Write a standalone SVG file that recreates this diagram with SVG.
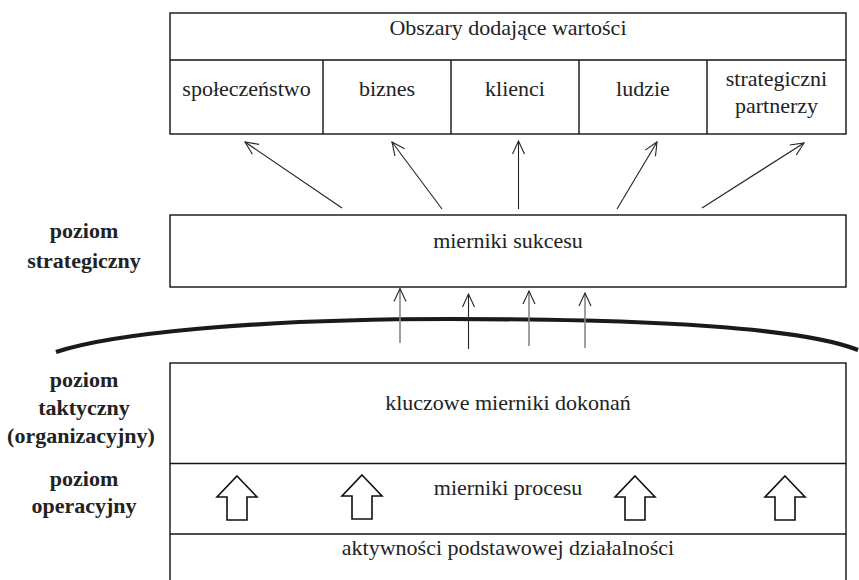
<svg xmlns="http://www.w3.org/2000/svg" width="859" height="580" viewBox="0 0 859 580">
  <defs>
    <marker id="head" markerUnits="userSpaceOnUse" markerWidth="16" markerHeight="16" viewBox="-14 -8 16 16" refX="0" refY="0" orient="auto">
      <path d="M-13,-6 L0,0 L-13,6" fill="none" stroke="#222" stroke-width="1.1"/>
    </marker>
    <path id="blockArrow" d="M0,0 L20,21 L10,21 L10,44 L-10,44 L-10,21 L-20,21 Z"/>
  </defs>

  <rect width="859" height="580" fill="#fff"/>

  <!-- value-adding areas -->
  <g id="obszary">
    <rect x="170" y="13" width="676" height="121" fill="#fff" stroke="#111" stroke-width="1.4"/>
    <line x1="170" y1="60" x2="846" y2="60" stroke="#111" stroke-width="1.4"/>
    <text x="508" y="35" font-family="Liberation Serif" font-size="22" text-anchor="middle" fill="#222">Obszary dodające wartości</text>
  </g>
  <g id="spoleczenstwo">
    <text x="246.5" y="96" font-family="Liberation Serif" font-size="22" text-anchor="middle" fill="#222">społeczeństwo</text>
  </g>
  <g id="biznes">
    <line x1="323" y1="60" x2="323" y2="134" stroke="#111" stroke-width="1.4"/>
    <text x="387" y="96" font-family="Liberation Serif" font-size="22" text-anchor="middle" fill="#222">biznes</text>
  </g>
  <g id="klienci">
    <line x1="451" y1="60" x2="451" y2="134" stroke="#111" stroke-width="1.4"/>
    <text x="515" y="96" font-family="Liberation Serif" font-size="22" text-anchor="middle" fill="#222">klienci</text>
  </g>
  <g id="ludzie">
    <line x1="579" y1="60" x2="579" y2="134" stroke="#111" stroke-width="1.4"/>
    <text x="643" y="96" font-family="Liberation Serif" font-size="22" text-anchor="middle" fill="#222">ludzie</text>
  </g>
  <g id="partnerzy">
    <line x1="707" y1="60" x2="707" y2="134" stroke="#111" stroke-width="1.4"/>
    <text x="776.5" y="86" font-family="Liberation Serif" font-size="22" text-anchor="middle" fill="#222">strategiczni</text>
    <text x="776.5" y="113" font-family="Liberation Serif" font-size="22" text-anchor="middle" fill="#222">partnerzy</text>
  </g>

  <!-- success measures -->
  <g id="mierniki-sukcesu">
    <rect x="170" y="215" width="676" height="72" fill="#fff" stroke="#111" stroke-width="1.4"/>
    <text x="508" y="248" font-family="Liberation Serif" font-size="22" text-anchor="middle" fill="#222">mierniki sukcesu</text>
  </g>

  <!-- key performance measures, process measures, core activities -->
  <g id="kluczowe-mierniki">
    <rect x="170" y="363" width="676" height="230" fill="#fff" stroke="#111" stroke-width="1.4"/>
    <text x="508" y="410" font-family="Liberation Serif" font-size="22" text-anchor="middle" fill="#222">kluczowe mierniki dokonań</text>
  </g>
  <g id="mierniki-procesu">
    <line x1="170" y1="463.5" x2="846" y2="463.5" stroke="#111" stroke-width="1.4"/>
    <text x="508" y="495" font-family="Liberation Serif" font-size="22" text-anchor="middle" fill="#222">mierniki procesu</text>
  </g>
  <g id="aktywnosci">
    <line x1="170" y1="534" x2="846" y2="534" stroke="#111" stroke-width="1.4"/>
    <text x="508" y="555" font-family="Liberation Serif" font-size="22" text-anchor="middle" fill="#222">aktywności podstawowej działalności</text>
  </g>

  <!-- level labels -->
  <g id="poziom-strategiczny">
    <text x="84" y="238" font-family="Liberation Serif" font-size="22" font-weight="bold" text-anchor="middle" fill="#222">poziom</text>
    <text x="84" y="268" font-family="Liberation Serif" font-size="22" font-weight="bold" text-anchor="middle" fill="#222">strategiczny</text>
  </g>
  <g id="poziom-taktyczny">
    <text x="84" y="387" font-family="Liberation Serif" font-size="22" font-weight="bold" text-anchor="middle" fill="#222">poziom</text>
    <text x="84" y="415" font-family="Liberation Serif" font-size="22" font-weight="bold" text-anchor="middle" fill="#222">taktyczny</text>
    <text x="81" y="443" font-family="Liberation Serif" font-size="22" font-weight="bold" text-anchor="middle" fill="#222">(organizacyjny)</text>
  </g>
  <g id="poziom-operacyjny">
    <text x="84" y="486" font-family="Liberation Serif" font-size="22" font-weight="bold" text-anchor="middle" fill="#222">poziom</text>
    <text x="84" y="513" font-family="Liberation Serif" font-size="22" font-weight="bold" text-anchor="middle" fill="#222">operacyjny</text>
  </g>

  <!-- boundary arc between tactical and strategic levels -->
  <g id="granica">
    <path d="M56,352 C110,334 250,319 450,319 C650,319 800,327 858,350" fill="none" stroke="#1a1a1a" stroke-width="4.2"/>
  </g>

  <g id="connectors" fill="none">
    <!-- fan to value areas -->
    <g stroke="#222" stroke-width="1.1">
      <line x1="342" y1="208" x2="245" y2="142" marker-end="url(#head)"/>
      <line x1="442" y1="209" x2="392" y2="142" marker-end="url(#head)"/>
      <line x1="518.5" y1="209" x2="518.5" y2="141" marker-end="url(#head)"/>
      <line x1="617" y1="209" x2="657" y2="142" marker-end="url(#head)"/>
      <line x1="702" y1="208" x2="804" y2="143" marker-end="url(#head)"/>
      <line x1="468.5" y1="349" x2="468.5" y2="294" marker-end="url(#head)"/>
    </g>
    <!-- rising into success measures -->
    <g stroke="#888" stroke-width="1.6">
      <line x1="400" y1="343" x2="400" y2="288.5" marker-end="url(#head)"/>
      <line x1="529" y1="346" x2="529" y2="291" marker-end="url(#head)"/>
      <line x1="585" y1="348" x2="585" y2="293" marker-end="url(#head)"/>
    </g>
    <!-- hollow block arrows -->
    <g fill="#fff" stroke="#111" stroke-width="1.6">
      <use href="#blockArrow" x="237" y="476"/>
      <use href="#blockArrow" x="362" y="475"/>
      <use href="#blockArrow" x="635" y="476"/>
      <use href="#blockArrow" x="785" y="476"/>
    </g>
  </g>
</svg>
